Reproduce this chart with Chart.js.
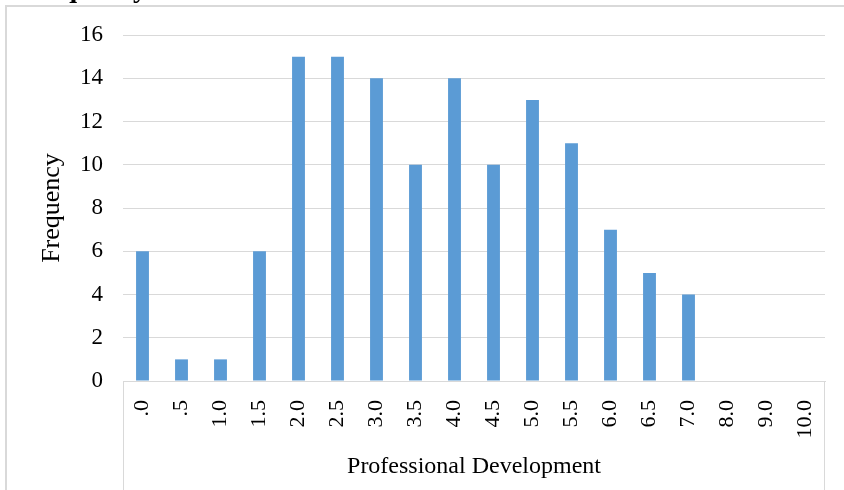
<!DOCTYPE html>
<html>
<head>
<meta charset="utf-8">
<script src="https://cdn.jsdelivr.net/npm/chart.js@4"></script>
<style>
    html, body { margin: 0; padding: 0; background: #fff; }
    #wrap { position: relative; width: 844px; height: 490px; overflow: hidden; }
    #frame { position: absolute; left: 5px; top: 5px; width: 900px; height: 600px;
             border-left: 2px solid #d9d9d9; border-top: 2px solid #d9d9d9; }
    canvas { position: absolute; left: 0; top: 0; }
</style>
</head>
<body>
<div id="wrap">
    <div id="frame"></div>
    <canvas id="chart" width="844" height="490"></canvas>
</div>
<script>
document.addEventListener('DOMContentLoaded', () => {
    const categories = ['.0', '.5', '1.0', '1.5', '2.0', '2.5', '3.0', '3.5', '4.0', '4.5',
                        '5.0', '5.5', '6.0', '6.5', '7.0', '8.0', '9.0', '10.0'];
    const frequencies = [6, 1, 1, 6, 15, 15, 14, 10, 14, 10, 13, 11, 7, 5, 4, 0, 0, 0];
    const yTicks = [0, 2, 4, 6, 8, 10, 12, 14, 16];

    const serif = "'Liberation Serif', 'Times New Roman', serif";
    const gridColor = '#d9d9d9';

    // clipped heading above the chart and the outer category box lines
    const extras = {
        id: 'extras',
        afterDraw(chart) {
            const ctx = chart.ctx;
            const area = chart.chartArea;
            const xScale = chart.scales.x;
            ctx.save();
            ctx.fillStyle = '#000';
            ctx.font = 'bold 28px ' + serif;
            ctx.textBaseline = 'alphabetic';
            ctx.fillText('Frequency', 20, -3);
            ctx.strokeStyle = gridColor;
            ctx.lineWidth = 1;
            ctx.beginPath();
            ctx.moveTo(area.left + 0.5, area.bottom);
            ctx.lineTo(area.left + 0.5, xScale.bottom);
            ctx.moveTo(area.right - 0.5, area.bottom);
            ctx.lineTo(area.right - 0.5, xScale.bottom);
            ctx.stroke();
            ctx.restore();
        }
    };

    new Chart(document.getElementById('chart').getContext('2d'), {
        type: 'bar',
        data: {
            labels: categories,
            datasets: [{
                label: 'Frequency',
                data: frequencies,
                backgroundColor: '#5b9bd5',
                borderWidth: 0,
                barPercentage: 0.33,
                categoryPercentage: 1
            }]
        },
        options: {
            responsive: false,
            animation: false,
            layout: { padding: { top: 35, right: 19, left: 0, bottom: 0 } },
            plugins: {
                legend: { display: false },
                tooltip: { enabled: false }
            },
            scales: {
                x: {
                    afterFit: (scale) => { scale.height = 109; },
                    grid: { display: false },
                    border: { display: true, color: gridColor, width: 1 },
                    ticks: {
                        color: '#000',
                        font: { family: serif, size: 22 },
                        minRotation: 90,
                        maxRotation: 90,
                        autoSkip: false,
                        padding: 11
                    },
                    title: {
                        display: true,
                        text: 'Professional Development',
                        color: '#000',
                        font: { family: serif, size: 24 },
                        padding: { top: 0, bottom: 9 }
                    }
                },
                y: {
                    min: 0,
                    max: 16,
                    afterFit: (scale) => { scale.width = 123; },
                    afterBuildTicks: (scale) => { scale.ticks = yTicks.map(v => ({ value: v })); },
                    grid: { color: gridColor, drawTicks: false },
                    border: { display: false },
                    ticks: {
                        color: '#000',
                        font: { family: serif, size: 23 },
                        padding: 20
                    },
                    title: {
                        display: true,
                        text: 'Frequency',
                        color: '#000',
                        font: { family: serif, size: 26 },
                        padding: { top: 37, bottom: 0 }
                    }
                }
            }
        },
        plugins: [extras]
    });
});
</script>
</body>
</html>
